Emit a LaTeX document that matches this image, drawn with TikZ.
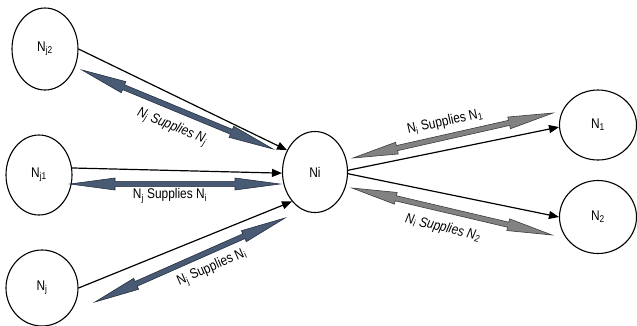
\documentclass[tikz,border=0pt]{standalone}
\usepackage{fontspec}
\setmainfont{Liberation Sans}[FakeStretch=0.85]
\usetikzlibrary{shapes.geometric,arrows.meta,calc}
\definecolor{bluefill}{RGB}{72,90,116}
\definecolor{blueline}{RGB}{38,48,64}
\definecolor{grayfill}{RGB}{130,130,130}
\definecolor{grayline}{RGB}{60,60,60}
\newcommand\dblarr[3]{%
  \filldraw[fill=#3fill, draw=#3line, line width=0.6pt, line join=miter]
  (#1) -- ($(#1)!45pt!(#2)!6pt!90:(#2)$) -- ($(#1)!45pt!(#2)!2.6pt!90:(#2)$)
  -- ($(#2)!45pt!(#1)!2.6pt!-90:(#1)$) -- ($(#2)!45pt!(#1)!6pt!-90:(#1)$)
  -- (#2) -- ($(#2)!45pt!(#1)!6pt!90:(#1)$) -- ($(#2)!45pt!(#1)!2.6pt!90:(#1)$)
  -- ($(#1)!45pt!(#2)!2.6pt!-90:(#2)$) -- ($(#1)!45pt!(#2)!6pt!-90:(#2)$) -- cycle;}
\begin{document}
\begin{tikzpicture}[x=1pt,y=-1pt,
  nd/.style={draw, ellipse, line width=1.1pt, inner sep=0pt, font=\fontsize{14}{16}\selectfont},
  conn/.style={line width=1.2pt, -{Triangle[length=10pt,width=8pt]}},
  lab/.style={inner sep=1pt, font=\fontsize{14}{16}\selectfont}]
\useasboundingbox (0,0) rectangle (637,325);
\fill[white] (0,0) rectangle (637,325);
% nodes
\node[nd, minimum width=66pt, minimum height=82pt] (Nj2) at (45,49) {N\textsubscript{j2}};
\node[nd, minimum width=66pt, minimum height=80pt] (Nj1) at (39,175) {N\textsubscript{j1}};
\node[nd, minimum width=72pt, minimum height=76pt] (Nj) at (42,288) {N\textsubscript{j}};
\node[nd, minimum width=65pt, minimum height=81pt] (Ni) at (315,172) {Ni};
\node[nd, minimum width=77pt, minimum height=70pt] (N1) at (598,125) {N\textsubscript{1}};
\node[nd, minimum width=77pt, minimum height=73pt] (N2) at (598,217) {N\textsubscript{2}};
% connectors
\draw[conn] (Nj2.east) -- (Ni.142);
\draw[conn] (Nj1.12) -- (Ni.182);
\draw[conn] (Nj.east) -- (Ni.232);
\draw[conn] (Ni.3) -- (N1.183);
\draw[conn] (Ni.-3) -- (N2.west);
% double arrows
\coordinate (a1) at (82,70);   \coordinate (b1) at (273,149);
\coordinate (a2) at (70,184);  \coordinate (b2) at (280,184);
\coordinate (a3) at (95,302);  \coordinate (b3) at (285,218);
\coordinate (a4) at (353,158); \coordinate (b4) at (553,113);
\coordinate (a5) at (352,188); \coordinate (b5) at (552,235);
\dblarr{a1}{b1}{blue}
\dblarr{a2}{b2}{blue}
\dblarr{a3}{b3}{blue}
\dblarr{a4}{b4}{gray}
\dblarr{a5}{b5}{gray}
% labels
\node[lab, rotate=-22.5] (l1) at (172,127) {\itshape N\textsubscript{j} Supplies N\textsubscript{j}};
\node[lab] (l2) at (170,196) {N\textsubscript{j} Supplies N\textsubscript{i}};
\node[lab, rotate=23.8] (l3) at (212,268) {N\textsubscript{j} Supplies N\textsubscript{i}};
\node[lab, rotate=12.7] (l4) at (445,122) {N\textsubscript{i} Supplies N\textsubscript{1}};
\node[lab, rotate=-13.2] (l5) at (443,228) {\itshape N\textsubscript{i} Supplies N\textsubscript{2}};
\end{tikzpicture}
\end{document}
